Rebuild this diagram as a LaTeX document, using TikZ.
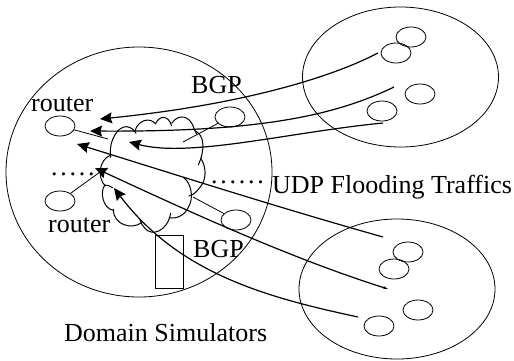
\documentclass[tikz,border=0pt]{standalone}
\usepackage{fontspec}
\setmainfont{Liberation Serif}
\usetikzlibrary{arrows.meta,shapes.geometric}
\newcommand{\dotrow}[1]{\foreach \k in {1,...,#1}{.\kern2.75pt}}
\tikzset{
  x=1pt,y=-1pt,
  domainc/.style={draw,ellipse,inner sep=0pt,line width=0.8pt},
  routerc/.style={draw,ellipse,minimum width=30pt,minimum height=20pt,inner sep=0pt,line width=0.8pt},
  lbl/.style={font=\fontsize{26}{28}\selectfont,anchor=base west,inner sep=0pt},
  link/.style={line width=0.8pt},
  flow/.style={line width=1.2pt,-{Stealth[length=12pt,width=11pt,inset=1.5pt]}},
  cloudline/.style={line width=1pt,line cap=round,line join=round},
  box/.style={draw,line width=0.8pt,inner sep=0pt,minimum width=28pt,minimum height=53pt}
}
\begin{document}
\begin{tikzpicture}
\useasboundingbox (0,0) rectangle (514,360);
% domains
\node[domainc,minimum width=266pt,minimum height=250pt] (dmain) at (139,172) {};
\node[domainc,minimum width=196pt,minimum height=140pt] (dtop) at (400.5,77) {};
\node[domainc,minimum width=196pt,minimum height=140pt] (dbot) at (397,289) {};
% routers
\node[routerc] (t1) at (411,37) {};
\node[routerc] (t2) at (396,53) {};
\node[routerc] (t3) at (420,94) {};
\node[routerc] (t4) at (382,111) {};
\node[routerc] (b1) at (408,252) {};
\node[routerc] (b2) at (394,269) {};
\node[routerc] (b3) at (418,310) {};
\node[routerc] (b4) at (379,326) {};
\node[routerc] (l1) at (60,126) {};
\node[routerc] (l2) at (60,201) {};
\node[routerc] (r1) at (230,117) {};
\node[routerc] (r2) at (236,220) {};
% router links to the cloud
\coordinate (c1) at (108,139);
\coordinate (c2) at (100,172);
\coordinate (c3) at (183,142);
\coordinate (c4) at (193,197);
\draw[link] (l1) -- (c1);
\draw[link] (l2) -- (c2);
\draw[link] (r1) -- (c3);
\draw[link] (r2) -- (c4);
% cloud
\begin{scope}[shift={(90,100)},x=0.3333pt,y=-0.3333pt,cloudline]
\draw (62,172) .. controls (55,120) and (85,78) .. (110,80) .. controls (122,81) and (133,90) .. (138,100);
\draw (135,92) .. controls (145,60) and (180,50) .. (197,72);
\draw (197,70) .. controls (210,45) and (235,45) .. (245,78);
\draw (245,70) .. controls (265,40) and (300,45) .. (312,85) .. controls (316,95) and (318,98) .. (320,102);
\draw (314,92) .. controls (345,105) and (345,150) .. (325,195);
\draw (332,175) .. controls (350,200) and (350,240) .. (330,262) .. controls (322,272) and (312,285) .. (297,288);
\draw (280,232) .. controls (305,250) and (312,295) .. (295,322) .. controls (285,345) and (260,358) .. (238,353);
\draw (242,340) .. controls (232,395) and (185,410) .. (165,385) .. controls (158,378) and (153,370) .. (150,360);
\draw (155,368) .. controls (125,390) and (70,375) .. (70,328);
\draw (72,332) .. controls (35,325) and (30,270) .. (45,255) .. controls (52,255) and (60,258) .. (68,263);
\draw (46,258) .. controls (22,235) and (25,180) .. (62,165);
\end{scope}
% flows
\coordinate (f1s) at (378,53); \coordinate (f1e) at (100,119);
\coordinate (f2s) at (394,87); \coordinate (f2e) at (90,131);
\coordinate (f3s) at (383,123); \coordinate (f3e) at (129,142);
\coordinate (f4s) at (383,237); \coordinate (f4e) at (77,144);
\coordinate (f5s) at (388,289); \coordinate (f5e) at (95,168);
\coordinate (f6s) at (358,317); \coordinate (f6e) at (114,188);
\draw[flow] (f1s) .. controls (330,78) and (240,105) .. (f1e);
\draw[flow] (f2s) .. controls (330,118) and (250,132) .. (f2e);
\draw[flow] (f3s) .. controls (290,132) and (190,158) .. (f3e);
\draw[flow] (f4s) .. controls (280,208) and (180,176) .. (f4e);
\draw[line width=1.2pt,{Stealth[length=5pt,width=3pt]}-{Stealth[length=12pt,width=11pt,inset=1.5pt]}] (f5s) .. controls (290,258) and (190,212) .. (f5e);
\draw[flow] (f6s) .. controls (270,298) and (180,275) .. (f6e);
% box
\node[box,anchor=north west] (bx) at (155,235) {};
% labels
\node[lbl] (tr1) at (31,111) {router};
\node[lbl] (tr2) at (48,232) {router};
\node[lbl] (tb1) at (191,93) {BGP};
\node[lbl] (tb2) at (193,257) {BGP};
\node[lbl] (tu) at (272,193) {UDP Flooding Traffics};
\node[lbl] (td) at (64,341) {Domain Simulators};
\node[lbl] (d1) at (51,175) {\dotrow{5}};
\node[lbl] (d2) at (211,183) {\dotrow{6}};
\end{tikzpicture}
\end{document}
